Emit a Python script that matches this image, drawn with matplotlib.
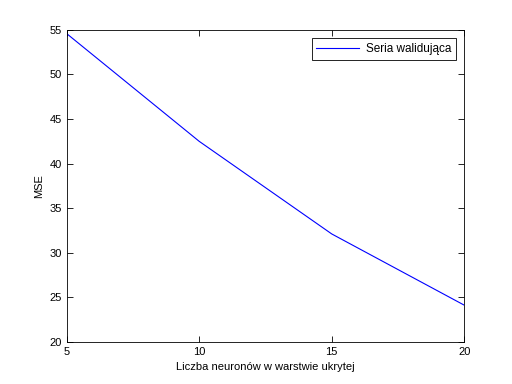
import matplotlib
matplotlib.use("Agg")
import matplotlib.pyplot as plt

neurons = [5, 10, 15, 20]
mse = [54.6, 42.5, 32.1, 24.1]
xticks = [5, 10, 15, 20]
yticks = [20, 25, 30, 35, 40, 45, 50, 55]

plt.rcParams['font.family'] = ['Liberation Sans', 'DejaVu Sans']
plt.rcParams['font.size'] = 8

fig = plt.figure(figsize=(5.12, 3.84), dpi=100)
ax = fig.add_axes([0.13, 0.11, 0.777, 0.812])
ax.plot(neurons, mse, color='blue', linewidth=0.8, label='Seria walidująca')
ax.set_xlim(5, 20)
ax.set_ylim(20, 55)
ax.set_xticks(xticks)
ax.set_yticks(yticks)
ax.tick_params(direction='in', top=True, right=True, length=4, width=0.6, labelsize=8)
for s in ax.spines.values():
    s.set_linewidth(0.6)
ax.set_xlabel('Liczba neuronów w warstwie ukrytej', fontsize=8)
ax.set_ylabel('MSE', fontsize=8)
leg = ax.legend(loc='upper right', fancybox=False, edgecolor='black', framealpha=1, fontsize=8.5,
                handlelength=3.6, handletextpad=0.6, borderaxespad=0.7)
leg.get_frame().set_linewidth(0.6)
fig.savefig('out.png', dpi=100)
